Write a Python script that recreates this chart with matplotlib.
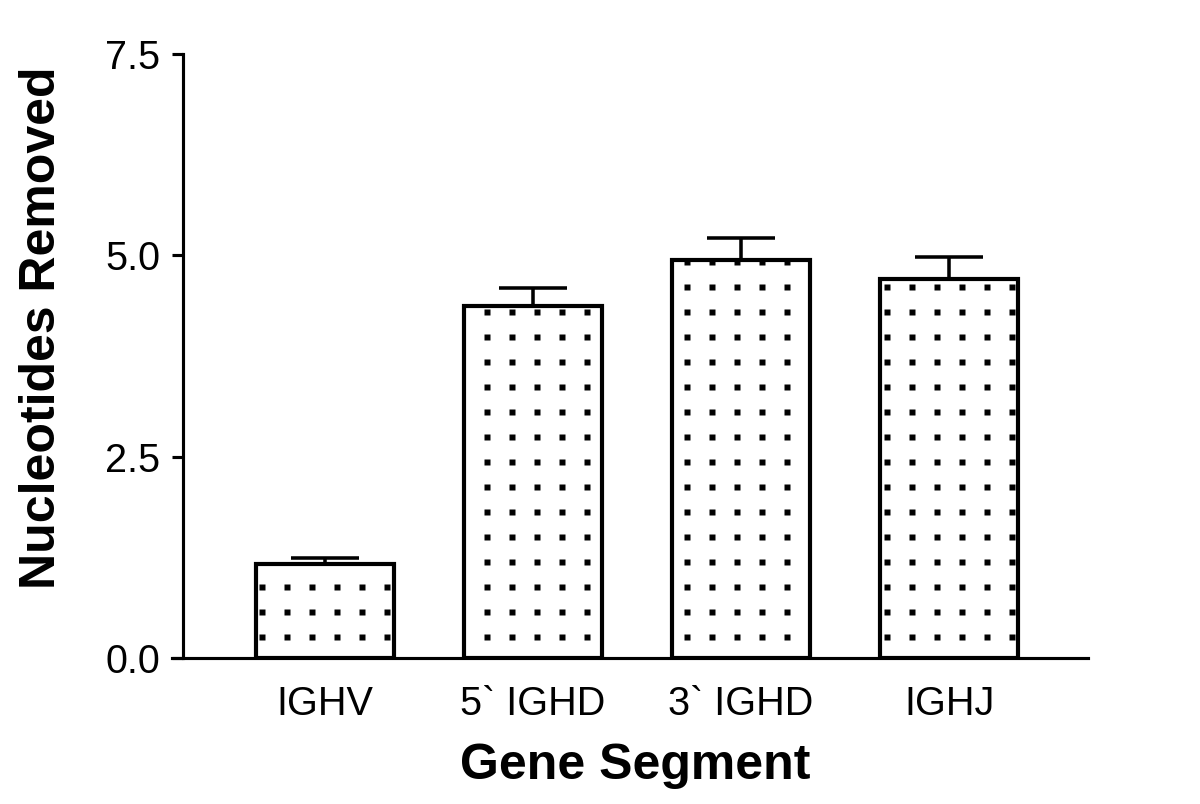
import numpy as np
import matplotlib
matplotlib.use("Agg")
import matplotlib.pyplot as plt
from matplotlib import hatch as mhatch
from matplotlib.path import Path

# ---- data ----
categories = ["IGHV", "5` IGHD", "3` IGHD", "IGHJ"]
means = [1.17, 4.37, 4.94, 4.71]
errors = [0.07, 0.23, 0.27, 0.27]
yticks = [0.0, 2.5, 5.0, 7.5]


# ---- square-dot hatch on a regular grid (replaces the staggered '.') ----
class SquareDots(mhatch.HatchPatternBase):
    half = 0.0165

    def __init__(self, hatch, density):
        n = hatch.count('.')
        self.num_rows = 6 * n
        self.num_vertices = 5 * self.num_rows ** 2 if n else 0

    def set_vertices_and_codes(self, vertices, codes):
        n = self.num_rows
        h = self.half
        k = 0
        for i in range(n):
            for j in range(n):
                cx = (i + 0.5) / n
                cy = (j + 0.5) / n
                vertices[k:k + 5] = [(cx - h, cy - h), (cx + h, cy - h),
                                     (cx + h, cy + h), (cx - h, cy + h),
                                     (cx - h, cy - h)]
                codes[k] = Path.MOVETO
                codes[k + 1:k + 4] = Path.LINETO
                codes[k + 4] = Path.CLOSEPOLY
                k += 5


mhatch._hatch_types = [t for t in mhatch._hatch_types
                       if t is not mhatch.SmallFilledCircles] + [SquareDots]

plt.rcParams['font.family'] = ['Liberation Sans', 'DejaVu Sans']
plt.rcParams['hatch.linewidth'] = 0.5

fig = plt.figure(figsize=(8, 5.36), dpi=150)
ax = fig.add_axes([0.1525, 0.1816, 0.7542, 0.7512])

x = np.arange(len(categories))
ax.bar(x, means, width=0.663, color='white', edgecolor='black',
       linewidth=2.0, hatch='.', zorder=2)
ax.errorbar(x, means, yerr=[np.zeros(len(errors)), errors], fmt='none',
            ecolor='black', elinewidth=1.7, capsize=16.5, capthick=1.7,
            zorder=1)

ax.set_xlim(-0.683, 3.668)
ax.set_ylim(0, 7.5)
ax.set_yticks(yticks)
ax.set_yticklabels([f"{v:.1f}" for v in yticks])
ax.set_xticks(x)
ax.set_xticklabels(categories)

for s in ['top', 'right']:
    ax.spines[s].set_visible(False)
ax.spines['left'].set_linewidth(1.5)
ax.spines['bottom'].set_linewidth(1.5)
ax.spines['bottom'].set_bounds(-0.683 - 0.055, 3.668)
ax.spines['bottom'].set_clip_on(False)

ax.tick_params(axis='y', direction='out', length=5.3, width=1.5,
               pad=5.5, labelsize=19)
ax.tick_params(axis='x', length=0, pad=13, labelsize=19)

ax.set_ylabel("Nucleotides Removed", fontsize=24, fontweight='bold')
ax.yaxis.set_label_coords(-0.13, 0.547)
ax.set_xlabel("Gene Segment", fontsize=24, fontweight='bold', va='top')
ax.xaxis.set_label_coords(0.5, -0.14)

fig.savefig("out.png", dpi=150)
